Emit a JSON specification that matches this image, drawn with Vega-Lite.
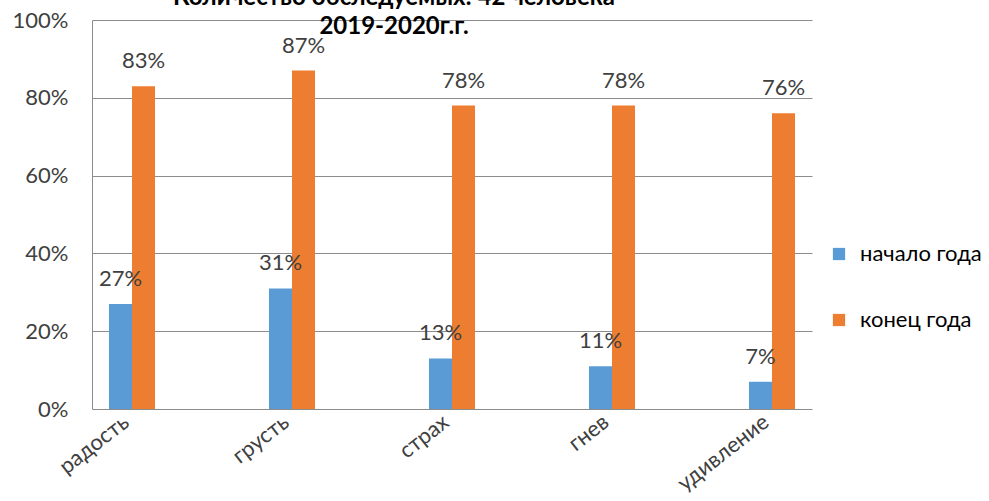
{
  "$schema": "https://vega.github.io/schema/vega-lite/v6.json",
  "autosize": {"type": "none"},
  "padding": {"left": 92, "top": 20, "right": 177, "bottom": 92},
  "width": 720,
  "height": 389,
  "background": "white",
  "title": {
    "text": ["Количество обследуемых: 42 человека", "2019-2020г.г."],
    "font": "Lato, Open Sans",
    "fontSize": 24,
    "fontWeight": "bold",
    "color": "#000000",
    "anchor": "middle",
    "frame": "group",
    "baseline": "alphabetic",
    "orient": "top",
    "offset": 0,
    "dx": -58,
    "dy": 49,
    "lineHeight": 29
  },
  "config": {
    "view": {"stroke": null},
    "font": "Lato, Open Sans",
    "text": {"font": "Lato, Open Sans"}
  },
  "data": {
    "values": [
      {"emotion": "радость", "series": "начало года", "value": 0.27},
      {"emotion": "радость", "series": "конец года", "value": 0.83},
      {"emotion": "грусть", "series": "начало года", "value": 0.31},
      {"emotion": "грусть", "series": "конец года", "value": 0.87},
      {"emotion": "страх", "series": "начало года", "value": 0.13},
      {"emotion": "страх", "series": "конец года", "value": 0.78},
      {"emotion": "гнев", "series": "начало года", "value": 0.11},
      {"emotion": "гнев", "series": "конец года", "value": 0.78},
      {"emotion": "удивление", "series": "начало года", "value": 0.07},
      {"emotion": "удивление", "series": "конец года", "value": 0.76}
    ]
  },
  "encoding": {
    "x": {
      "field": "emotion",
      "type": "nominal",
      "sort": null,
      "scale": {"paddingInner": 0.7125, "paddingOuter": 0.10625},
      "axis": {
        "title": null,
        "domain": false,
        "ticks": false,
        "labelAngle": -38,
        "labelAlign": "right",
        "labelBaseline": "top",
        "labelPadding": 2,
        "labelOffset": -12,
        "labelFontSize": 22,
        "labelColor": "#404040",
        "labelFont": "Lato, Open Sans"
      }
    },
    "xOffset": {
      "field": "series",
      "type": "nominal",
      "sort": ["начало года", "конец года"],
      "scale": {"paddingInner": 0, "paddingOuter": 0}
    },
    "y": {
      "field": "value",
      "type": "quantitative",
      "scale": {"domain": [0, 1], "nice": false},
      "axis": {
        "title": null,
        "format": ".0%",
        "values": [0, 0.2, 0.4, 0.6, 0.8, 1],
        "grid": true,
        "gridColor": "#8c8c8c",
        "gridWidth": 1,
        "domain": true,
        "domainColor": "#8c8c8c",
        "ticks": false,
        "labelPadding": 24,
        "labelFontSize": 22,
        "labelColor": "#404040",
        "labelFont": "Lato, Open Sans"
      }
    }
  },
  "layer": [
    {
      "mark": {"type": "bar"},
      "encoding": {
        "color": {
          "field": "series",
          "type": "nominal",
          "sort": ["начало года", "конец года"],
          "scale": {"domain": ["начало года", "конец года"], "range": ["#5B9BD5", "#ED7D31"]},
          "legend": {
            "title": null,
            "orient": "none",
            "legendX": 736,
            "legendY": 223,
            "symbolType": "square",
            "symbolSize": 150,
            "symbolStrokeWidth": 0,
            "labelFontSize": 22,
            "labelColor": "#000000",
            "labelFont": "Lato, Open Sans",
            "labelOffset": 10,
            "rowPadding": 44,
            "labelLimit": 300
          }
        }
      }
    },
    {
      "mark": {"type": "text", "baseline": "alphabetic", "dy": -18, "fontSize": 22, "color": "#404040"},
      "encoding": {
        "text": {"field": "value", "type": "quantitative", "format": ".0%"}
      }
    }
  ]
}
